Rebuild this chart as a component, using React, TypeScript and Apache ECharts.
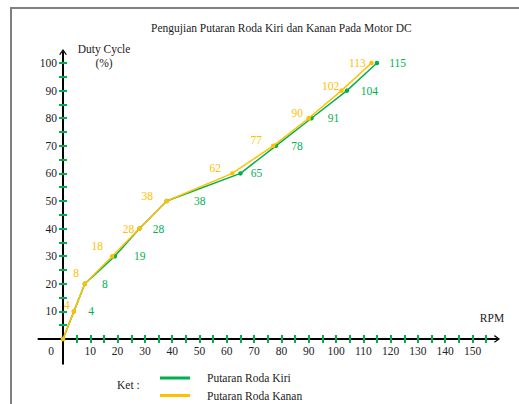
import React, { useEffect, useRef } from 'react';
import * as echarts from 'echarts';

const TITLE = 'Pengujian Putaran Roda Kiri dan Kanan Pada Motor DC';
const Y_NAME = ['Duty Cycle', '(%)'];
const X_NAME = 'RPM';
const LEGEND_CAPTION = 'Ket :';
const SERIES_NAMES = ['Putaran Roda Kiri', 'Putaran Roda Kanan'];

const dutyCycle = [0, 10, 20, 30, 40, 50, 60, 70, 80, 90, 100];
const rpmKiri = [0, 4, 8, 19, 28, 38, 65, 78, 91, 104, 115];
const rpmKanan = [0, 4, 8, 18, 28, 38, 62, 77, 90, 102, 113];

const xTickValues = [5, 10, 15, 20, 25, 30, 35, 40, 45, 50, 55, 60, 65, 70, 75, 80, 85, 90, 95, 100, 105, 110, 115, 120, 125, 130, 135, 140, 145, 150, 155];
const xLabelValues = [0, 10, 20, 30, 40, 50, 60, 70, 80, 90, 100, 110, 120, 130, 140, 150];
const yTickValues = [5, 10, 15, 20, 25, 30, 35, 40, 45, 50, 55, 60, 65, 70, 75, 80, 85, 90, 95, 100];
const yLabelValues = [10, 20, 30, 40, 50, 60, 70, 80, 90, 100];

// axis extents
const X_MIN = -9;
const X_MAX = 159;
const Y_MIN = -9;
const Y_MAX = 104;

// label placement (layout only)
const kiriLabelOffset = [[0, 0], [12, 0], [15, 0], [17, 0], [11, 0], [25, 0], [8, 0], [13, 0], [14, 0], [11.5, 0], [10, 0]];
const kananLabelOffset = [[0, 0], [-2, -6], [-3.5, -11], [-7, -10], [-3, 0], [-11.5, -5], [-9, -5], [-9, -6], [-3.5, -5.5], [0, -5], [-3.5, 0]];

const GREEN = '#00b050';
const ORANGE = '#ffc000';
const FONT = 'Liberation Serif, Times New Roman, serif';
const FS = 11.5;
const TEXT = '#222';
const CHEV = 'path://M5,0 L10,7 L8.6,7.8 L5,2.6 L1.4,7.8 L0,7 Z';

const GRID = { left: 38.43, top: 52, width: 458.64, height: 311.8 };

export default function App() {
  const ref = useRef<HTMLDivElement>(null);
  useEffect(() => {
    document.body.style.margin = '0';
    const chart = echarts.init(ref.current!, null, { renderer: 'svg' });
    const tickStyle = { color: GREEN, width: 2 };
    // shift axes from grid edges onto the zero lines
    const xOffset = -(0 - Y_MIN) / (Y_MAX - Y_MIN) * GRID.height;
    const yOffset = -(0 - X_MIN) / (X_MAX - X_MIN) * GRID.width;
    const mkData = (xs: number[], offs: number[][], pos: string) =>
      xs.map((x, i) => ({
        value: [x, dutyCycle[i]],
        label: i === 0 ? { show: false } : { show: true, position: pos, distance: 0, offset: offs[i] },
      }));
    const labelFmt = (p: any) => String(p.value[0]);
    chart.setOption({
      animation: false,
      textStyle: { fontFamily: FONT, fontSize: FS },
      title: {
        text: TITLE,
        left: 151,
        top: 22,
        padding: 0,
        textStyle: { fontFamily: FONT, fontSize: FS, fontWeight: 'normal', color: TEXT },
      },
      grid: { ...GRID, containLabel: false, outerBoundsMode: 'none' },
      legend: {
        data: SERIES_NAMES,
        orient: 'vertical',
        left: 160,
        top: 371,
        icon: 'rect',
        itemWidth: 30,
        itemHeight: 3,
        itemGap: 3.5,
        padding: 0,
        textStyle: { fontFamily: FONT, fontSize: FS, color: TEXT, padding: [0, 0, 0, 12], lineHeight: 14 },
      },
      xAxis: [
        {
          type: 'value', min: X_MIN, max: X_MAX, position: 'bottom', offset: xOffset,
          axisLine: { show: true, onZero: false, lineStyle: { color: '#000', width: 2 }, symbol: ['none', CHEV], symbolSize: [9, 6] },
          axisTick: { show: true, customValues: xTickValues, length: 4, lineStyle: tickStyle },
          axisLabel: {
            customValues: xLabelValues, margin: 6, fontFamily: FONT, fontSize: FS, color: TEXT,
            formatter: (v: number) => (v === 0 ? '{z|0}' : String(v)),
            rich: { z: { padding: [0, 24, 0, 0], fontFamily: FONT, fontSize: FS, color: TEXT } },
          },
          splitLine: { show: false },
        },
        {
          type: 'value', min: X_MIN, max: X_MAX, position: 'bottom', offset: xOffset,
          axisLine: { show: false, onZero: false },
          axisTick: { show: true, inside: true, customValues: xTickValues, length: 4, lineStyle: tickStyle },
          axisLabel: { show: false },
          splitLine: { show: false },
        },
      ],
      yAxis: [
        {
          type: 'value', min: Y_MIN, max: Y_MAX, position: 'left', offset: yOffset,
          axisLine: { show: true, onZero: false, lineStyle: { color: '#000', width: 2 }, symbol: ['none', CHEV], symbolSize: [9, 6] },
          axisTick: { show: true, customValues: yTickValues, length: 4, lineStyle: tickStyle },
          axisLabel: { customValues: yLabelValues, margin: 6, fontFamily: FONT, fontSize: FS, color: TEXT },
          splitLine: { show: false },
        },
        {
          type: 'value', min: Y_MIN, max: Y_MAX, position: 'left', offset: yOffset,
          axisLine: { show: false, onZero: false },
          axisTick: { show: true, inside: true, customValues: yTickValues, length: 4, lineStyle: tickStyle },
          axisLabel: { show: false },
          splitLine: { show: false },
        },
      ],
      series: [
        {
          name: SERIES_NAMES[0], type: 'line', xAxisIndex: 0, yAxisIndex: 0,
          color: GREEN, symbol: 'circle', symbolSize: 4.5, showSymbol: true,
          lineStyle: { color: GREEN, width: 1.5 }, itemStyle: { color: GREEN },
          label: { fontFamily: FONT, fontSize: FS, color: GREEN, formatter: labelFmt },
          data: mkData(rpmKiri, kiriLabelOffset, 'right'),
          z: 2,
        },
        {
          name: SERIES_NAMES[1], type: 'line', xAxisIndex: 0, yAxisIndex: 0,
          color: ORANGE, symbol: 'circle', symbolSize: 4.5, showSymbol: true,
          lineStyle: { color: ORANGE, width: 1.5 }, itemStyle: { color: ORANGE },
          label: { fontFamily: FONT, fontSize: FS, color: ORANGE, formatter: labelFmt },
          data: mkData(rpmKanan, kananLabelOffset, 'left'),
          z: 3,
        },
      ],
      graphic: [
        { type: 'rect', shape: { x: 11, y: 8, width: 800, height: 800 }, style: { fill: 'none', stroke: '#808080', lineWidth: 2 }, silent: true },
        { type: 'text', x: 104, y: 49, style: { text: Y_NAME[0], align: 'center', verticalAlign: 'middle', font: `${FS}px ${FONT}`, fill: TEXT } },
        { type: 'text', x: 104, y: 63, style: { text: Y_NAME[1], align: 'center', verticalAlign: 'middle', font: `${FS}px ${FONT}`, fill: TEXT } },
        { type: 'text', x: 492, y: 318, style: { text: X_NAME, align: 'center', verticalAlign: 'middle', font: `${FS}px ${FONT}`, fill: TEXT } },
        { type: 'text', x: 117, y: 385, style: { text: LEGEND_CAPTION, align: 'left', verticalAlign: 'middle', font: `${FS}px ${FONT}`, fill: TEXT } },
      ],
    });
    return () => chart.dispose();
  }, []);
  return <div ref={ref} style={{ width: 519, height: 404 }} />;
}
